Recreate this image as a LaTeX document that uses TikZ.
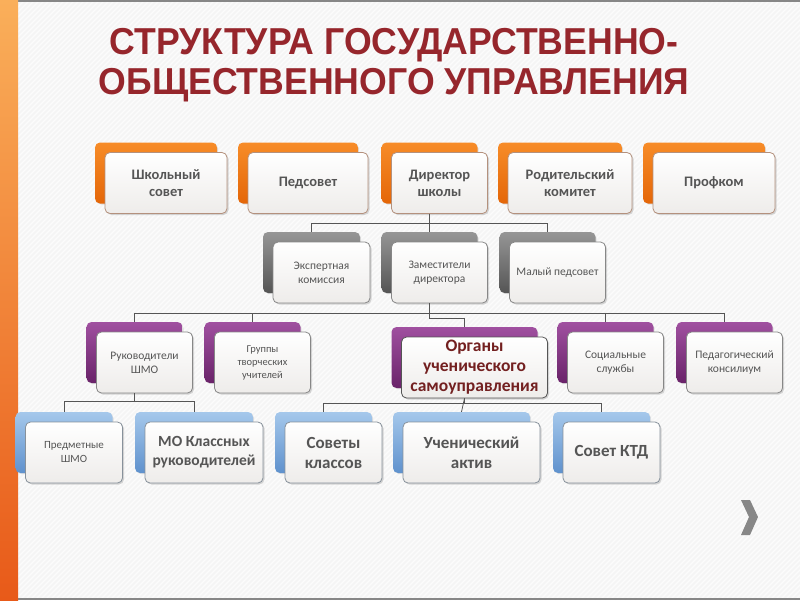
\documentclass[tikz,border=0pt]{standalone}
\usepackage{fontspec}
\setmainfont{Carlito}
\newfontfamily\titlefont[FakeStretch=0.95]{Liberation Sans}
\usepackage{tikz}
\usetikzlibrary{shadows}

\definecolor{titlered}{RGB}{150,38,44}
\definecolor{orgred}{RGB}{115,32,32}
\definecolor{boxtxt}{RGB}{85,85,85}
\definecolor{boxbg}{RGB}{238,236,234}
\definecolor{linegray}{RGB}{85,85,85}
\definecolor{pagebg}{RGB}{245,245,245}
\definecolor{stripe}{RGB}{252,252,252}
\definecolor{ortop}{RGB}{247,140,40}
\definecolor{orbot}{RGB}{228,102,8}
\definecolor{grtop}{RGB}{150,150,150}
\definecolor{grbot}{RGB}{85,85,85}
\definecolor{putop}{RGB}{160,80,160}
\definecolor{pubot}{RGB}{105,35,105}
\definecolor{bltop}{RGB}{165,200,235}
\definecolor{blbot}{RGB}{95,145,205}
\definecolor{edgeor}{RGB}{180,145,125}
\definecolor{edgegr}{RGB}{135,135,135}
\definecolor{edgebl}{RGB}{135,145,155}
\definecolor{bartop}{RGB}{250,175,90}
\definecolor{barbot}{RGB}{232,90,25}

\begin{document}
\begin{tikzpicture}[
        x=1pt, y=-1pt,
        conn/.style={draw=linegray, line width=0.8pt},
        back/.style 2 args={rounded corners=5pt, top color=#1, bottom color=#2,
            minimum height=61pt, drop shadow={opacity=.2, shadow xshift=1pt, shadow yshift=-1pt}},
        obox/.style={back={ortop}{orbot}},
        gbox/.style={back={grtop}{grbot}},
        pbox/.style={back={putop}{pubot}},
        bbox/.style={back={bltop}{blbot}},
        front/.style={rounded corners=5pt, top color=white, bottom color=boxbg, draw=#1,
            line width=.8pt, minimum height=61pt, align=center, text=boxtxt, inner sep=1pt,
            xshift=10pt, yshift=-10pt,
            drop shadow={opacity=.3, shadow xshift=1.5pt, shadow yshift=-1.5pt}},
        bigtxt/.style={font=\bfseries\fontsize{14.5}{17}\selectfont},
        smalltxt/.style={font=\fontsize{11.5}{14}\selectfont},
        tinytxt/.style={font=\fontsize{10.5}{13}\selectfont},
        hugetxt/.style={font=\bfseries\fontsize{17}{20}\selectfont}
    ]
    \useasboundingbox (0,0) rectangle (800,600);

    % background with fine stripes
    \fill[pagebg] (0,0) rectangle (800,600);
    \begin{scope}
        \clip (0,0) rectangle (800,600);
        \foreach \i in {0,5,...,1400}
            \draw[stripe, line width=1.3pt] (\i,0) -- (\i-600,600);
    \end{scope}
    \draw[edgegr, line width=2pt] (0,1) -- (800,1) (0,599) -- (800,599);
    \shade[top color=bartop, bottom color=barbot] (0,0) rectangle (18,600);

    % title
    \node[text=titlered, align=center, font=\titlefont\bfseries\fontsize{37.5}{40}\selectfont]
        (title) at (394,65) {СТРУКТУРА ГОСУДАРСТВЕННО-\\ОБЩЕСТВЕННОГО УПРАВЛЕНИЯ};

    % first row
    \node[obox, minimum width=122pt] (sovetb) at (156,173) {};
    \node[front=edgeor, minimum width=122pt, bigtxt] (sovet) at (sovetb) {Школьный\\совет};
    \node[obox, minimum width=120pt] (pedsovetb) at (298,173) {};
    \node[front=edgeor, minimum width=120pt, bigtxt] (pedsovet) at (pedsovetb) {Педсовет};
    \node[obox, minimum width=96pt] (dirb) at (429.5,173) {};
    \node[front=edgeor, minimum width=96pt, bigtxt] (dir) at (dirb) {Директор\\школы};
    \node[obox, minimum width=124pt] (rodkomb) at (560,173) {};
    \node[front=edgeor, minimum width=124pt, bigtxt] (rodkom) at (rodkomb) {Родительский\\комитет};
    \node[obox, minimum width=122pt] (profkomb) at (704,173) {};
    \node[front=edgeor, minimum width=122pt, bigtxt] (profkom) at (profkomb) {Профком};

    % second row
    \node[gbox, minimum width=97pt] (expb) at (311.5,262.5) {};
    \node[front=edgegr, minimum width=97pt, smalltxt] (exp) at (expb) {Экспертная\\комиссия};
    \node[gbox, minimum width=96pt] (zamb) at (429.5,262.5) {};
    \node[front=edgegr, minimum width=96pt, smalltxt] (zam) at (zamb) {Заместители\\директора};
    \node[gbox, minimum width=96pt] (malpedb) at (547.5,262.5) {};
    \node[front=edgegr, minimum width=96pt, smalltxt] (malped) at (malpedb) {Малый педсовет};

    % third row
    \node[pbox, minimum width=96pt] (rukb) at (134.5,352.5) {};
    \node[front=edgegr, minimum width=96pt, smalltxt] (ruk) at (rukb) {Руководители\\ШМО};
    \node[pbox, minimum width=96pt] (grupb) at (252.5,352.5) {};
    \node[front=edgegr, minimum width=96pt, tinytxt] (grup) at (grupb) {Группы\\творческих\\учителей};
    \node[pbox, minimum width=146pt] (orgb) at (464.5,357.5) {};
    \node[front=linegray, minimum width=146pt, font=\bfseries\fontsize{17.5}{20}\selectfont, text=orgred] (org) at (orgb) {Органы\\ученического\\самоуправления};
    \node[pbox, minimum width=96pt] (socb) at (605.5,352.5) {};
    \node[front=edgegr, minimum width=96pt, smalltxt] (soc) at (socb) {Социальные\\службы};
    \node[pbox, minimum width=96pt] (pedkonb) at (724.5,352.5) {};
    \node[front=edgegr, minimum width=96pt, smalltxt] (pedkon) at (pedkonb) {Педагогический\\консилиум};

    % fourth row
    \node[bbox, minimum width=97pt] (predmb) at (64,442.5) {};
    \node[front=edgebl, minimum width=97pt, font=\fontsize{11}{14}\selectfont] (predm) at (predmb) {Предметные\\ШМО};
    \node[bbox, minimum width=118pt] (moklb) at (194,442.5) {};
    \node[front=edgebl, minimum width=118pt, font=\bfseries\fontsize{15.5}{19}\selectfont] (mokl) at (moklb) {МО Классных\\руководителей};
    \node[bbox, minimum width=97pt] (sovklb) at (323.5,442.5) {};
    \node[front=edgebl, minimum width=97pt, hugetxt] (sovkl) at (sovklb) {Советы\\классов};
    \node[bbox, minimum width=137pt] (aktivb) at (461.5,442.5) {};
    \node[front=edgebl, minimum width=137pt, hugetxt] (aktiv) at (aktivb) {Ученический\\актив};
    \node[bbox, minimum width=97pt] (ktdb) at (601.5,442.5) {};
    \node[front=edgebl, minimum width=97pt, hugetxt] (ktd) at (ktdb) {Совет КТД};

    % connectors
    \draw[conn] (dir.south -| dirb.center) -- (zamb.north);
    \draw[conn] (dir.south -| dirb.center) -- ++(0,9) -| (expb.north);
    \draw[conn] (dir.south -| dirb.center) -- ++(0,9) -| (malpedb.north);

    \draw[conn] (zam.south -| zamb.center) -- ++(0,10) -| (rukb.north);
    \draw[conn] (zam.south -| zamb.center) -- ++(0,10) -| (grupb.north);
    \draw[conn] (zam.south -| zamb.center) -- ++(0,10) -| (socb.north);
    \draw[conn] (zam.south -| zamb.center) -- ++(0,10) -| (pedkonb.north);
    \draw[conn] (zam.south -| zamb.center) -- ++(0,15) -| (orgb.north);

    \draw[conn] (ruk.south -| rukb.center) -- ++(0,8) -| (predmb.north);
    \draw[conn] (ruk.south -| rukb.center) -- ++(0,8) -| (moklb.north);

    \draw[conn] (org.south -| orgb.center) -- (aktivb.north);
    \draw[conn] (org.south -| orgb.center) -- ++(0,5) -| (sovklb.north);
    \draw[conn] (org.south -| orgb.center) -- ++(0,5) -| (ktdb.north);

    % next-slide mark
    \fill[edgegr] (741,500) -- (750,500) -- (758,517) -- (750,535) -- (741,535) -- (749,517) -- cycle;
\end{tikzpicture}
\end{document}
